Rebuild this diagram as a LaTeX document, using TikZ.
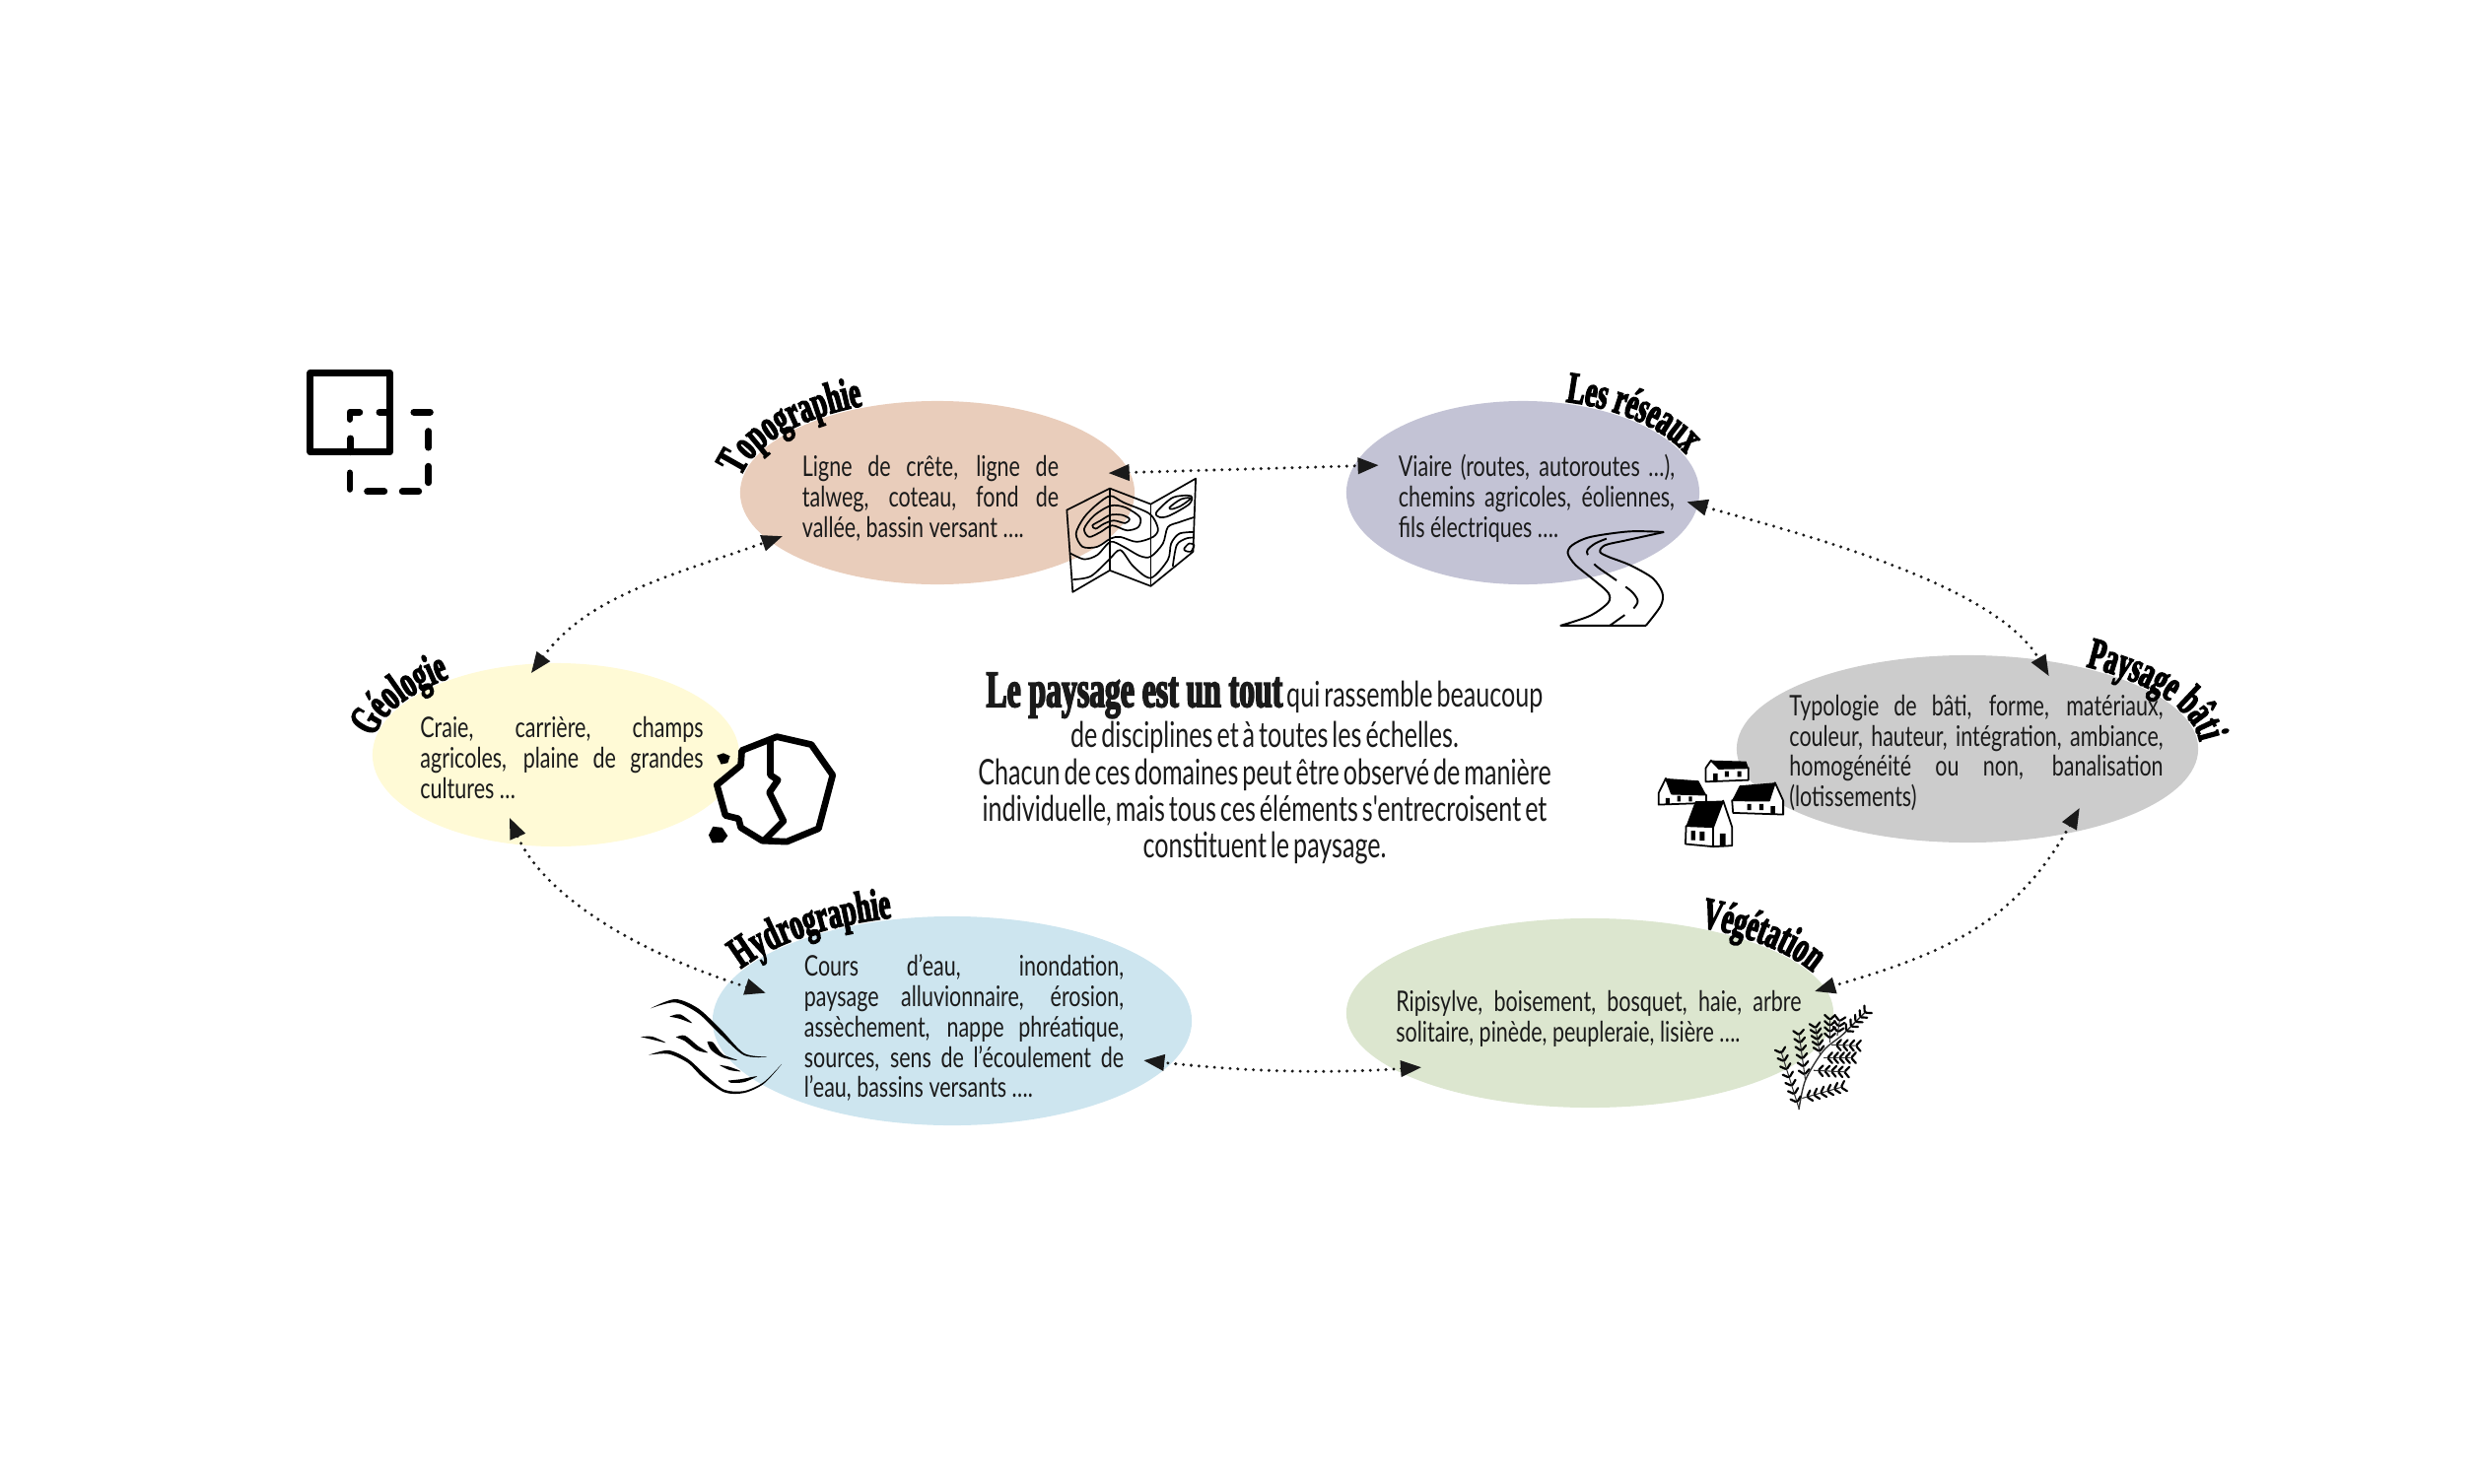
\documentclass[tikz,border=0pt]{standalone}
\usepackage{fontspec}
\setmainfont[FakeStretch=0.745]{Lato}
\newfontfamily\captionfont[FakeStretch=0.70,WordSpace=0.62]{Lato}
\newfontfamily\posterfont[FakeStretch=0.60,BoldFeatures={FakeBold=3}]{Liberation Serif}
\usetikzlibrary{arrows.meta,calc,shapes.geometric,decorations.text}
\definecolor{inkc}{HTML}{1A1A1A}
\definecolor{topoc}{HTML}{E9CDBB}
\definecolor{resc}{HTML}{C3C3D5}
\definecolor{batic}{HTML}{CCCCCC}
\definecolor{vegc}{HTML}{DCE6CF}
\definecolor{hydroc}{HTML}{CDE5EF}
\definecolor{geoc}{HTML}{FFFAD6}
\tolerance=10000
\hbadness=10000
\hyphenpenalty=10000
\newcommand{\titlefmt}{\posterfont\bfseries\fontsize{12.8}{12.8}\selectfont\color{black}}
\tikzset{
  blob/.style={ellipse, draw=none, inner sep=0pt, outer sep=0pt},
  bodytxt/.style={align=justify, inner sep=0pt, text=inkc,
                  font=\fontsize{8.2}{8.8}\selectfont},
  captiontxt/.style={align=center, inner sep=0pt, text=inkc,
                  font=\captionfont\fontsize{10.2}{10.6}\selectfont},
  link/.style={{Triangle[length=6pt,width=4.6pt]}-{Triangle[length=6pt,width=4.6pt]},
               draw=inkc, line width=0.95pt, line cap=round,
               dash pattern=on 0pt off 2.25pt},
  arctitle/.style={decorate, decoration={text along path, text align=center,
                   text={|\titlefmt|#1}}},
  zoomed/.style={x=0.003333cm, y=-0.003333cm},
  planline/.style={draw=black, line width=1.9pt, line cap=round, line join=round},
  mapline/.style={draw=black, line width=0.48pt, line join=round},
  roadline/.style={draw=black, line width=0.55pt, line join=round},
  rockline/.style={draw=black, line width=1.9pt, line join=round},
  wall/.style={draw=black, fill=white, line width=0.5pt, line join=round},
}
\newcommand{\fernbranch}[5]{% from, to, number of pairs
  \draw[black!80, line width=0.3pt] (#1,#2) -- (#3,#4);
  \pgfmathsetmacro{\fernang}{atan2(-(#4-#2),#3-#1)}
  \foreach \t in {1,...,#5} {
    \pgfmathsetmacro{\fernpos}{(\t-0.3)/#5}
    \draw[black, line width=0.62pt, line cap=round]
      ($(#1,#2)!\fernpos!(#3,#4)$) ++(\fernang+48:0.012cm) -- ++(\fernang+48:0.06cm);
    \draw[black, line width=0.62pt, line cap=round]
      ($(#1,#2)!\fernpos!(#3,#4)$) ++(\fernang-48:0.012cm) -- ++(\fernang-48:0.06cm);
  }
}
\begin{document}
\begin{tikzpicture}[x=0.01cm, y=-0.01cm]
  \useasboundingbox (0,0) rectangle (2514,1506);

  % ellipses
  \node[blob, fill=topoc,  minimum width=4.00cm, minimum height=1.86cm] (topo)  at (951,500)   {};
  \node[blob, fill=resc,   minimum width=3.58cm, minimum height=1.86cm] (res)   at (1545,500)  {};
  \node[blob, fill=batic,  minimum width=4.68cm, minimum height=1.90cm] (bati)  at (1996,760)  {};
  \node[blob, fill=vegc,   minimum width=4.94cm, minimum height=1.92cm] (veg)   at (1613,1028) {};
  \node[blob, fill=hydroc, minimum width=4.86cm, minimum height=2.12cm] (hydro) at (966,1036)  {};
  \node[blob, fill=geoc,   minimum width=3.72cm, minimum height=1.86cm] (geo)   at (564,766)   {};

  % texts
  \node[bodytxt, text width=2.60cm] (topotxt) at (944,506)
    {Ligne de crête, ligne de\linebreak talweg, coteau, fond de\linebreak vallée, bassin versant ….};
  \node[bodytxt, text width=2.80cm] (restxt) at (1559,506)
    {Viaire (routes, autoroutes …),\linebreak chemins agricoles, éoliennes,\linebreak fils électriques ….};
  \node[bodytxt, text width=3.79cm] (batitxt) at (2005,764)
    {Typologie de bâti, forme, matériaux,\linebreak couleur, hauteur, intégration, ambiance,\linebreak homogénéité ou non, banalisation\linebreak (lotissements)};
  \node[bodytxt, text width=4.11cm] (vegtxt) at (1622,1034)
    {Ripisylve, boisement, bosquet, haie, arbre\linebreak solitaire, pinède, peupleraie, lisière ….};
  \node[bodytxt, text width=3.24cm] (hydrotxt) at (978,1043)
    {Cours d’eau, inondation,\linebreak paysage alluvionnaire, érosion,\linebreak assèchement, nappe phréatique,\linebreak sources, sens de l’écoulement de\linebreak l’eau, bassins versants ….};
  \node[bodytxt, text width=2.87cm] (geotxt) at (570,769)
    {Craie, carrière, champs\linebreak agricoles, plaine de grandes\linebreak cultures …};
  \node[captiontxt] (caption) at (1283,780)
    {{\posterfont\bfseries\fontsize{15}{10.6}\selectfont Le paysage est un tout} qui rassemble beaucoup\\
     de disciplines et à toutes les échelles.\\
     Chacun de ces domaines peut être observé de manière\\
     individuelle, mais tous ces éléments s'entrecroisent et\\
     constituent le paysage.};

  % titles on the ellipses
  \path[arctitle={Topographie}]  (topo.center)  ++(182:2.02cm and 0.95cm) arc (182:106:2.02cm and 0.95cm);
  \path[arctitle={Les réseaux}]  (res.center)   ++(85:1.81cm and 0.95cm)  arc (85:9:1.81cm and 0.95cm);
  \path[arctitle={Paysage bâti}] (bati.center)  ++(65:2.36cm and 0.97cm)  arc (65:-8:2.36cm and 0.97cm);
  \path[arctitle={Végétation}]   (veg.center)   ++(70:2.49cm and 0.98cm)  arc (70:12:2.49cm and 0.98cm);
  \path[arctitle={Hydrographie}] (hydro.center) ++(168:2.45cm and 1.08cm) arc (168:95:2.45cm and 1.08cm);
  \path[arctitle={Géologie}]     (geo.center)   ++(187:1.88cm and 0.95cm) arc (187:115:1.88cm and 0.95cm);

  % plan
  \begin{scope}[shift={(300,365)}, zoomed]
    \draw[planline, line width=2pt] (45,40) rectangle (287,282);
    \draw[planline] (165,182) -- (165,160) -- (195,160);
    \draw[planline] (255,160) -- (287,160);
    \draw[planline] (167,240) -- (167,282);
    \draw[planline] (360,160) -- (410,160);
    \draw[planline] (405,218) -- (405,268);
    \draw[planline] (405,325) -- (405,375);
    \draw[planline] (375,402) -- (325,402);
    \draw[planline] (270,402) -- (218,402);
    \draw[planline] (165,345) -- (165,395);
  \end{scope}

  % map
  \begin{scope}[shift={(1070,475)}, zoomed]
    \draw[mapline] (37,128) -- (168,62) -- (293,110) -- (430,32) -- (422,255)
      -- (293,360) -- (168,312) -- (55,378) -- cycle;
    \draw[mapline] (168,62) -- (168,312);
    \draw[mapline] (293,110) -- (293,360);
    \draw[mapline] plot[smooth cycle] coordinates {(115,175) (140,160) (170,143) (205,143) (228,155) (215,168) (180,160) (150,170) (125,185)};
    \draw[mapline] plot[smooth cycle] coordinates {(90,185) (120,145) (170,115) (215,120) (260,150) (255,180) (220,190) (175,175) (140,195) (105,210)};
    \draw[mapline] plot[smooth cycle] coordinates {(65,200) (90,150) (130,110) (170,85) (210,105) (290,140) (315,185) (300,210) (250,225) (200,210) (170,215) (130,240) (85,240)};
    \draw[mapline] plot[smooth] coordinates {(48,260) (90,278) (130,265) (170,225) (210,240) (260,268) (293,270) (330,230) (345,180) (380,165) (425,150)};
    \draw[mapline] plot[smooth] coordinates {(55,340) (110,330) (165,280) (200,250) (240,300) (293,335) (345,280) (355,230) (380,200) (425,195)};
    \draw[mapline] plot[smooth cycle] coordinates {(310,135) (360,90) (415,85) (410,110) (350,145) (320,150)};
    \draw[mapline] plot[smooth cycle] coordinates {(350,120) (385,95) (415,92) (385,115) (358,125)};
    \draw[mapline] plot[smooth cycle] coordinates {(395,245) (410,230) (425,235) (415,255) (398,252)};
    \draw[mapline] plot[smooth] coordinates {(360,300) (372,235) (400,215) (424,212)};
  \end{scope}

  % road
  \begin{scope}[shift={(1570,530)}, zoomed]
    \draw[roadline] plot[smooth] coordinates {(355,30) (250,28) (130,45) (75,70) (62,95) (85,130) (140,175) (185,215) (185,245) (130,285) (40,315)}
      -- (300,315);
    \draw[roadline] plot[smooth] coordinates {(300,315) (345,255) (350,215) (320,170) (250,130) (185,105) (160,90) (175,70) (240,55) (355,30)};
    \draw[roadline, dash pattern=on 8pt off 3.2pt] plot[smooth] coordinates {(180,50) (145,65) (120,90) (145,130) (200,170) (255,210) (275,240) (260,265) (225,290) (190,315)};
  \end{scope}

  % houses
  \begin{scope}[shift={(1670,760)}, zoomed]
    \draw[wall] (182,58) -- (198,35) -- (222,60) -- (312,58) -- (312,95) -- (182,100) -- cycle;
    \fill (198,35) -- (305,38) -- (312,58) -- (222,60) -- cycle;
    \fill (205,75) rectangle (218,100) (240,68) rectangle (252,85) (278,68) rectangle (290,85);
    \draw[wall] (38,135) -- (60,90) -- (78,137) -- (183,140) -- (183,165) -- (38,170) -- cycle;
    \fill (60,90) -- (160,97) -- (183,140) -- (78,137) -- cycle;
    \fill (60,150) rectangle (72,170) (95,143) rectangle (105,160) (130,145) rectangle (140,160);
    \draw[wall] (262,157) -- (375,158) -- (393,103) -- (418,158) -- (418,200) -- (265,195) -- cycle;
    \fill (285,112) -- (393,103) -- (375,158) -- (262,157) -- cycle;
    \fill (308,168) rectangle (320,187) (345,168) rectangle (358,187) (380,175) rectangle (393,200);
    \draw[wall] (122,235) -- (205,238) -- (235,158) -- (262,238) -- (262,295) -- (205,298) -- (120,290) -- cycle;
    \draw[wall, fill=none] (205,238) -- (205,298);
    \fill (150,160) -- (235,158) -- (205,238) -- (122,235) -- cycle;
    \fill (137,250) rectangle (150,278) (163,252) rectangle (178,280) (225,258) rectangle (242,298);
  \end{scope}

  % rock
  \begin{scope}[shift={(710,735)}, zoomed]
    \draw[rockline, fill=white] (235,38) -- (340,62) -- (405,155) -- (362,318) -- (265,358) -- (190,355)
      -- (125,315) -- (118,288) -- (78,278) -- (52,185) -- (125,125) -- (128,80) -- cycle;
    \draw[rockline] (215,50) -- (215,155) -- (238,170) -- (212,208) -- (255,295) -- (195,355);
    \fill (52,95) -- (72,88) -- (92,97) -- (85,118) -- (65,122) -- cycle;
    \fill (40,312) -- (68,315) -- (85,340) -- (70,360) -- (38,362) -- (27,338) -- cycle;
  \end{scope}

  % water
  \begin{scope}[shift={(645,1000)}, zoomed]
    \fill plot[smooth] coordinates {(45,70) (120,42) (190,70) (260,135) (330,207) (400,218) (330,213) (258,150) (190,85) (120,52) (45,70)};
    \fill plot[smooth] coordinates {(40,212) (100,198) (160,225) (215,275) (270,318) (330,322) (390,295) (445,240) (390,300) (330,328) (270,326) (205,282) (160,237) (100,209) (40,212)};
    \fill plot[smooth] coordinates {(103,95) (135,88) (172,115) (135,102) (103,95)};
    \fill plot[smooth] coordinates {(15,157) (50,156) (92,175) (50,165) (15,157)};
    \fill plot[smooth] coordinates {(122,158) (150,153) (190,185) (220,205) (185,197) (150,170) (122,158)};
    \fill plot[smooth] coordinates {(218,172) (235,173) (265,210) (310,228) (265,220) (230,197) (218,172)};
    \fill plot[smooth] coordinates {(255,243) (285,248) (320,262) (285,258) (255,243)};
    \fill plot[smooth] coordinates {(282,290) (320,286) (370,277) (330,295) (290,297) (282,290)};
  \end{scope}

  % fern
  \begin{scope}[shift={(1790,800)}, zoomed]
    \draw[black!80, line width=0.4pt] plot[smooth] coordinates {(105,980) (125,890) (180,800) (240,750) (310,680)};
    \fernbranch{240}{750}{310}{680}{5}
    \fernbranch{105}{975}{50}{800}{7}
    \fernbranch{125}{890}{105}{745}{6}
    \fernbranch{170}{815}{155}{725}{5}
    \fernbranch{200}{775}{200}{700}{4}
    \fernbranch{222}{755}{230}{705}{3}
    \fernbranch{115}{945}{240}{910}{6}
    \fernbranch{150}{860}{250}{865}{5}
    \fernbranch{180}{822}{270}{822}{5}
    \fernbranch{205}{782}{285}{785}{4}
  \end{scope}

  % links
  \draw[link, shorten <=-0.216cm, shorten >=-0.25cm] (topo.6) -- (res.171);
  \draw[link, shorten <=-0.115cm, shorten >=-0.19cm] (res.-4.5) .. controls (1820,540) and (2023,591) .. (bati.51.3);
  \draw[link, shorten <=-0.30cm, shorten >=-0.11cm] (bati.-41.6) .. controls (2044,937) and (1975,967) .. (veg.6.2);
  \draw[link, shorten <=-0.28cm, shorten >=-0.28cm] (veg.-164.2) .. controls (1340,1090) and (1260,1087) .. (hydro.-11.3);
  \draw[link, shorten <=-0.38cm, shorten >=-0.30cm] (hydro.170) .. controls (629,961) and (548,901) .. (geo.-111.6);
  \draw[link, shorten <=-0.12cm, shorten >=-0.14cm] (geo.101.6) .. controls (597,604) and (682,584) .. (topo.-164.8);
\end{tikzpicture}
\end{document}
